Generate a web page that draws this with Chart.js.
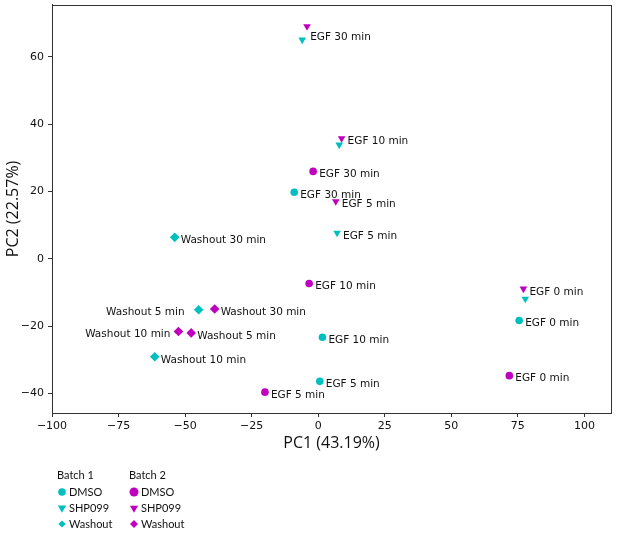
<!DOCTYPE html>
<html>
<head>
<meta charset="utf-8">
<script src="https://cdn.jsdelivr.net/npm/chart.js@4.4.0/dist/chart.umd.min.js"></script>
<style>
  html, body { margin: 0; padding: 0; background: #fff; }
</style>
</head>
<body>
<canvas id="pcaChart" width="617" height="534"></canvas>
<script>
var cyan = '#00bfbf';
var magenta = '#bf00bf';

// tick labels
var xTicks = [-100, -75, -50, -25, 0, 25, 50, 75, 100];
var yTicks = [-40, -20, 0, 20, 40, 60];

// Batch 1
var b1DmsoX = [-9.0, 1.6, 0.6, 75.5];
var b1DmsoY = [19.8, -23.3, -36.4, -18.3];
var b1DmsoLabels = ['EGF 30 min', 'EGF 10 min', 'EGF 5 min', 'EGF 0 min'];
var b1DmsoSide = ['r', 'r', 'r', 'r'];

var b1ShpX = [-6.0, 7.9, 7.1, 77.8];
var b1ShpY = [65.1, 33.9, 7.7, -11.9];
var b1ShpLabels = ['EGF 30 min', null, 'EGF 5 min', null];
var b1ShpSide = ['ru', 'r', 'r', 'r'];

var b1WashX = [-53.9, -44.9, -61.4];
var b1WashY = [6.4, -15.1, -29.1];
var b1WashLabels = ['Washout 30 min', 'Washout 5 min', 'Washout 10 min'];
var b1WashSide = ['r', 'lf', 'r'];

// Batch 2
var b2DmsoX = [-1.9, -3.4, -20.0, 71.8];
var b2DmsoY = [26.0, -7.3, -39.6, -34.7];
var b2DmsoLabels = ['EGF 30 min', 'EGF 10 min', 'EGF 5 min', 'EGF 0 min'];
var b2DmsoSide = ['r', 'r', 'r', 'r'];

var b2ShpX = [-4.2, 8.8, 6.6, 77.1];
var b2ShpY = [69.1, 35.8, 17.1, -8.9];
var b2ShpLabels = [null, 'EGF 10 min', 'EGF 5 min', 'EGF 0 min'];
var b2ShpSide = ['r', 'r', 'r', 'r'];

var b2WashX = [-38.9, -47.7, -52.5];
var b2WashY = [-14.9, -22.0, -21.6];
var b2WashLabels = ['Washout 30 min', 'Washout 5 min', 'Washout 10 min'];
var b2WashSide = ['r', 'r', 'l'];

function pts(xs, ys) {
    return xs.map(function (x, i) { return {x: x, y: ys[i]}; });
}

function fmt(v) {
    return v < 0 ? '\u2212' + Math.abs(v) : String(v);
}

function makeSet(name, color, style, xs, ys, labels, side, r) {
    return {
        label: name,
        data: pts(xs, ys),
        backgroundColor: color,
        borderColor: color,
        borderWidth: 0,
        pointStyle: style,
        pointRotation: style === 'triangle' ? 180 : 0,
        pointRadius: r,
        pointLabels: labels,
        labelSide: side
    };
}

var datasets = [
    makeSet('B1 DMSO', cyan, 'circle', b1DmsoX, b1DmsoY, b1DmsoLabels, b1DmsoSide, 3.8),
    makeSet('B2 DMSO', magenta, 'circle', b2DmsoX, b2DmsoY, b2DmsoLabels, b2DmsoSide, 3.8),
    makeSet('B2 SHP099', magenta, 'triangle', b2ShpX, b2ShpY, b2ShpLabels, b2ShpSide, 4.4),
    makeSet('B1 SHP099', cyan, 'triangle', b1ShpX, b1ShpY, b1ShpLabels, b1ShpSide, 4.4),
    makeSet('B1 Washout', cyan, 'rectRot', b1WashX, b1WashY, b1WashLabels, b1WashSide, 4.8),
    makeSet('B2 Washout', magenta, 'rectRot', b2WashX, b2WashY, b2WashLabels, b2WashSide, 4.8)
];

// text next to each point
var pointText = {
    id: 'pointText',
    afterDatasetsDraw: function (chart) {
        var ctx = chart.ctx;
        ctx.save();
        ctx.font = '10.5px "DejaVu Sans"';
        ctx.fillStyle = '#111';
        ctx.textBaseline = 'middle';
        chart.data.datasets.forEach(function (ds, i) {
            var meta = chart.getDatasetMeta(i);
            meta.data.forEach(function (el, j) {
                var txt = ds.pointLabels[j];
                if (!txt) return;
                var side = ds.labelSide[j];
                if (side === 'l' || side === 'lf') {
                    ctx.textAlign = 'right';
                    ctx.fillText(txt, el.x - (side === 'lf' ? 14 : 8), el.y + 3);
                } else if (side === 'ru') {
                    ctx.textAlign = 'left';
                    ctx.fillText(txt, el.x + 8, el.y - 3);
                } else {
                    ctx.textAlign = 'left';
                    ctx.fillText(txt, el.x + 6, el.y + 3);
                }
            });
        });
        ctx.restore();
    }
};

// box round the plot area
var frame = {
    id: 'frame',
    afterDraw: function (chart) {
        var a = chart.chartArea, ctx = chart.ctx;
        ctx.save();
        ctx.strokeStyle = '#333';
        ctx.lineWidth = 1;
        ctx.strokeRect(Math.round(a.left) + 0.5, Math.round(a.top) + 0.5,
            Math.round(a.right - a.left), Math.round(a.bottom - a.top));
        ctx.restore();
    }
};

function marker(ctx, style, x, y, r, color) {
    ctx.fillStyle = color;
    ctx.beginPath();
    if (style === 'circle') {
        ctx.arc(x, y, r, 0, Math.PI * 2);
    } else if (style === 'triangle') {
        ctx.moveTo(x - r * 0.87, y - r * 0.5);
        ctx.lineTo(x + r * 0.87, y - r * 0.5);
        ctx.lineTo(x, y + r);
    } else {
        ctx.moveTo(x, y - r);
        ctx.lineTo(x + r, y);
        ctx.lineTo(x, y + r);
        ctx.lineTo(x - r, y);
    }
    ctx.closePath();
    ctx.fill();
}

// two-column legend under the axis
var batchLegend = {
    id: 'batchLegend',
    afterDraw: function (chart) {
        var ctx = chart.ctx;
        var cols = [
            {title: 'Batch 1', x: 57, color: cyan, sizes: [3.8, 4.8, 3.6]},
            {title: 'Batch 2', x: 129, color: magenta, sizes: [4.5, 4.7, 4.0]}
        ];
        var names = ['DMSO', 'SHP099', 'Washout'];
        var styles = ['circle', 'triangle', 'rectRot'];
        var rows = [492, 508, 524];
        ctx.save();
        ctx.font = '11px Lato';
        ctx.textBaseline = 'middle';
        ctx.textAlign = 'left';
        cols.forEach(function (c) {
            ctx.fillStyle = '#111';
            ctx.fillText(c.title, c.x, 475);
            names.forEach(function (n, k) {
                marker(ctx, styles[k], c.x + 5, rows[k], c.sizes[k], c.color);
                ctx.fillStyle = '#111';
                ctx.fillText(n, c.x + 12, rows[k]);
            });
        });
        ctx.restore();
    }
};

var ctx = document.getElementById('pcaChart').getContext('2d');
var myChart = new Chart(ctx, {
    type: 'scatter',
    data: { datasets: datasets },
    plugins: [pointText, frame, batchLegend],
    options: {
        responsive: false,
        animation: false,
        layout: { padding: { left: 0, right: 6, top: 4, bottom: 81 } },
        plugins: {
            legend: { display: false },
            tooltip: { enabled: false }
        },
        scales: {
            x: {
                type: 'linear',
                min: -100,
                max: 110,
                afterBuildTicks: function (scale) {
                    scale.ticks = xTicks.map(function (v) { return {value: v}; });
                },
                afterFit: function (scale) { scale.height = 40; },
                grid: { drawOnChartArea: false, drawTicks: true, tickLength: 4, color: '#333' },
                border: { display: true, color: '#333' },
                ticks: {
                    color: '#111',
                    padding: 3,
                    maxRotation: 0,
                    font: { family: 'DejaVu Sans', size: 11 },
                    callback: function (v) { return fmt(v); }
                },
                title: {
                    display: true,
                    text: 'PC1 (43.19%)',
                    color: '#111',
                    padding: { top: 0, bottom: 0 },
                    font: { family: 'Open Sans', size: 16 }
                }
            },
            y: {
                type: 'linear',
                min: -45.8,
                max: 75.5,
                afterBuildTicks: function (scale) {
                    scale.ticks = yTicks.map(function (v) { return {value: v}; });
                },
                afterFit: function (scale) {
                    scale.width = 52;
                    scale.paddingTop = 0;
                    scale.paddingBottom = 0;
                },
                grid: { drawOnChartArea: false, drawTicks: true, tickLength: 4, color: '#333' },
                border: { display: true, color: '#333' },
                ticks: {
                    color: '#111',
                    padding: 4,
                    font: { family: 'DejaVu Sans', size: 11 },
                    callback: function (v) { return fmt(v); }
                },
                title: {
                    display: true,
                    text: 'PC2 (22.57%)',
                    color: '#111',
                    padding: { top: 4, bottom: 0 },
                    font: { family: 'Open Sans', size: 16 }
                }
            }
        }
    }
});
</script>
</body>
</html>
